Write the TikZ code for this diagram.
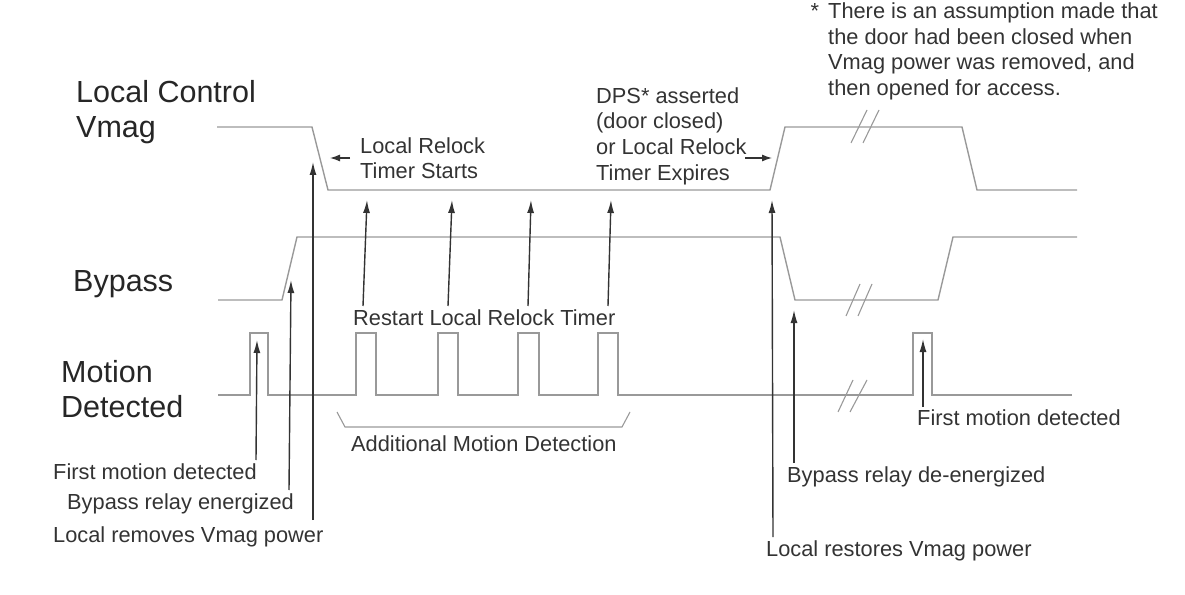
\documentclass[tikz,border=0pt]{standalone}
\usepackage{fontspec}
\setmainfont{Liberation Sans}
\usetikzlibrary{arrows.meta}
\definecolor{wave}{gray}{0.6}
\definecolor{mark}{gray}{0.2}
\begin{document}
\begin{tikzpicture}[x=1bp,y=-1bp,
	wave line/.style={draw=wave, line width=1.4bp},
	break line/.style={draw=wave, line width=1.1bp},
	pointer/.style={draw=mark, line width=1.4bp, -{Latex[length=13bp,width=7bp]}},
	small pointer/.style={draw=mark, line width=1.2bp, -{Latex[length=10bp,width=7bp]}},
	note/.style={font=\fontsize{21.8bp}{26bp}\selectfont, text=mark, inner sep=0, anchor=base west},
	note block/.style={font=\fontsize{21.8bp}{25.6bp}\selectfont, text=mark, inner sep=0, anchor=north west, align=left},
	channel/.style={font=\fontsize{30.5bp}{35bp}\selectfont, text=black!85, inner sep=0, anchor=north west, align=left}]
	\useasboundingbox (0,0) rectangle (1185,595);
	% channel names
	\node[channel] (vmagname) at (76,80.7) {Local Control\\Vmag};
	\node[channel, anchor=base west] (bypassname) at (73,292) {Bypass};
	\node[channel] (motionname) at (61,359.7) {Motion\\Detected};
	% waveforms
	\draw[wave line] (217,127) -- (312,127) -- (328,190) -- (770,190) -- (785,127) -- (962,127) -- (977,190) -- (1077,190);
	\draw[wave line] (218,300) -- (282,300) -- (297,237) -- (780,237) -- (795,300) -- (938,300) -- (953,237) -- (1077,237);
	\draw[wave line] (218,395) -- (250,395) |- (268,333) |- (356,395) |- (376,333) |- (438,395) |- (458,333) |- (518,395)
		|- (539,333) |- (598,395) |- (618,333) |- (913,395) |- (932,333) |- (1072,395);
	% breaks
	\draw[break line] (851,143) -- (867,110); \draw[break line] (863,143) -- (879,110);
	\draw[break line] (846,316) -- (860,284); \draw[break line] (858,316) -- (872,284);
	\draw[break line] (838,412) -- (853,380); \draw[break line] (850,412) -- (867,380);
	% additional motion bracket
	\draw[break line] (337,412) -- (345,427) -- (622,427) -- (630,412);
	\node[note] (additional) at (351,451) {Additional Motion Detection};
	% labels
	\node[note block] (relockstart) at (360,137.3) {Local Relock\\Timer Starts};
	\node[note block] (dps) at (596,87.3) {DPS* asserted\\(door closed)\\or Local Relock\\Timer Expires};
	\node[note block] (footnote) at (828,2.8) {\llap{*\hspace{9bp}}There is an assumption made that\\the door had been closed when\\Vmag power was removed, and\\then opened for access.};
	\node[note] (restart) at (353,326) {Restart Local Relock Timer};
	\node[note] (firstleft) at (53,479) {First motion detected};
	\node[note] (energized) at (67,509) {Bypass relay energized};
	\node[note] (removes) at (53,542) {Local removes Vmag power};
	\node[note] (deenergized) at (787,482) {Bypass relay de-energized};
	\node[note] (firstright) at (917,425) {First motion detected};
	\node[note] (restores) at (766,556) {Local restores Vmag power};
	% arrow ends
	\coordinate (startfrom) at (350,158); \coordinate (startto) at (330,158);
	\coordinate (expirefrom) at (745,158); \coordinate (expireto) at (772,158);
	\coordinate (rsA) at (363,306); \coordinate (rtA) at (367,200);
	\coordinate (rsB) at (448,306); \coordinate (rtB) at (452,200);
	\coordinate (rsC) at (528,306); \coordinate (rtC) at (531,200);
	\coordinate (rsD) at (608,306); \coordinate (rtD) at (611,200);
	\coordinate (firstleftfrom) at (256,460); \coordinate (firstleftto) at (257,340);
	\coordinate (energizedfrom) at (289,490); \coordinate (energizedto) at (291,280);
	\coordinate (removesfrom) at (313,520); \coordinate (removesto) at (313,162);
	\coordinate (restoresfrom) at (773,537); \coordinate (restoresto) at (772,200);
	\coordinate (deenergizedfrom) at (794,463); \coordinate (deenergizedto) at (794,310);
	\coordinate (firstrightfrom) at (923,407); \coordinate (firstrightto) at (923,339);
	% arrows
	\draw[small pointer] (startfrom) -- (startto);
	\draw[small pointer] (expirefrom) -- (expireto);
	\draw[pointer] (rsA) -- (rtA); \draw[pointer] (rsB) -- (rtB);
	\draw[pointer] (rsC) -- (rtC); \draw[pointer] (rsD) -- (rtD);
	\draw[pointer] (firstleftfrom) -- (firstleftto);
	\draw[pointer] (energizedfrom) -- (energizedto);
	\draw[pointer] (removesfrom) -- (removesto);
	\draw[pointer] (restoresfrom) -- (restoresto);
	\draw[pointer] (deenergizedfrom) -- (deenergizedto);
	\draw[pointer] (firstrightfrom) -- (firstrightto);
\end{tikzpicture}
\end{document}
